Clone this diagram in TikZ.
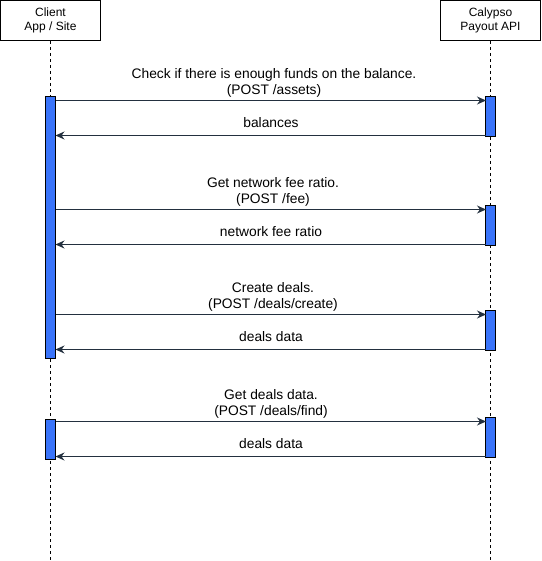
\documentclass[tikz,border=0pt]{standalone}
\usepackage{fontspec}
\setmainfont{Liberation Sans}
\usetikzlibrary{arrows.meta}
\definecolor{barblue}{HTML}{3A74FA}
\definecolor{msgcol}{HTML}{23303F}
\tikzset{
  x=1pt, y=-1pt,
  actor/.style={draw=black, line width=1pt, fill=white, minimum width=100pt, minimum height=40pt, align=center, inner sep=0pt, font=\fontsize{12}{14.5}\selectfont},
  lifeline/.style={draw=black, line width=1pt, dash pattern=on 3pt off 3pt},
  actbar/.style={draw=black, line width=1pt, fill=barblue},
  msg/.style={draw=msgcol, line width=1pt, -{Stealth[length=9pt, width=8pt]}},
  lbl/.style={font=\fontsize{13.8}{16}\selectfont, anchor=base, inner sep=0pt}
}
\begin{document}
\begin{tikzpicture}
\useasboundingbox (0,0) rectangle (541,561);
\node[actor] (client) at (50.5,20.5) {Client\\App / Site};
\node[actor] (api) at (490.5,20.5) {Calypso\\Payout API};
\coordinate (cend) at (50.5,561);
\coordinate (aend) at (490.5,561);
\draw[lifeline] (client.south) -- (cend);
\draw[lifeline] (api.south) -- (aend);
% activation bars
\draw[actbar] (45.5,96.5) rectangle (55.5,358.5);
\draw[actbar] (45.5,419.5) rectangle (55.5,459.5);
\draw[actbar] (485.5,96.5) rectangle (495.5,136.5);
\draw[actbar] (485.5,205.5) rectangle (495.5,245.5);
\draw[actbar] (485.5,310.5) rectangle (495.5,350.5);
\draw[actbar] (485.5,417.5) rectangle (495.5,457.5);
% message end points
\coordinate (c1) at (56,100.5); \coordinate (a1) at (486,100.5);
\coordinate (a1r) at (485.5,135.5); \coordinate (c1r) at (55.5,135.5);
\coordinate (c2) at (56,209.5); \coordinate (a2) at (486,209.5);
\coordinate (a2r) at (485.5,244.5); \coordinate (c2r) at (55.5,244.5);
\coordinate (c3) at (56,314.5); \coordinate (a3) at (486,314.5);
\coordinate (a3r) at (485.5,349.5); \coordinate (c3r) at (55.5,349.5);
\coordinate (c4) at (56,421.5); \coordinate (a4) at (486,421.5);
\coordinate (a4r) at (485.5,456.5); \coordinate (c4r) at (55.5,456.5);
\draw[msg] (c1) -- (a1);
\draw[msg] (a1r) -- (c1r);
\draw[msg] (c2) -- (a2);
\draw[msg] (a2r) -- (c2r);
\draw[msg] (c3) -- (a3);
\draw[msg] (a3r) -- (c3r);
\draw[msg] (c4) -- (a4);
\draw[msg] (a4r) -- (c4r);
% labels
\node[lbl] (l1a) at (274,78.5) {Check if there is enough funds on the balance.};
\node[lbl] (l1b) at (274,94.5) {(POST /assets)};
\node[lbl] (l1r) at (271,127.5) {balances};
\node[lbl] (l2a) at (273,187.5) {Get network fee ratio.};
\node[lbl] (l2b) at (273,203.5) {(POST /fee)};
\node[lbl] (l2r) at (271,236.5) {network fee ratio};
\node[lbl] (l3a) at (273,292.5) {Create deals.};
\node[lbl] (l3b) at (273,308.5) {(POST /deals/create)};
\node[lbl] (l3r) at (271,341.5) {deals data};
\node[lbl] (l4a) at (271,399.5) {Get deals data.};
\node[lbl] (l4b) at (271,415.5) {(POST /deals/find)};
\node[lbl] (l4r) at (271,448.5) {deals data};
\end{tikzpicture}
\end{document}
